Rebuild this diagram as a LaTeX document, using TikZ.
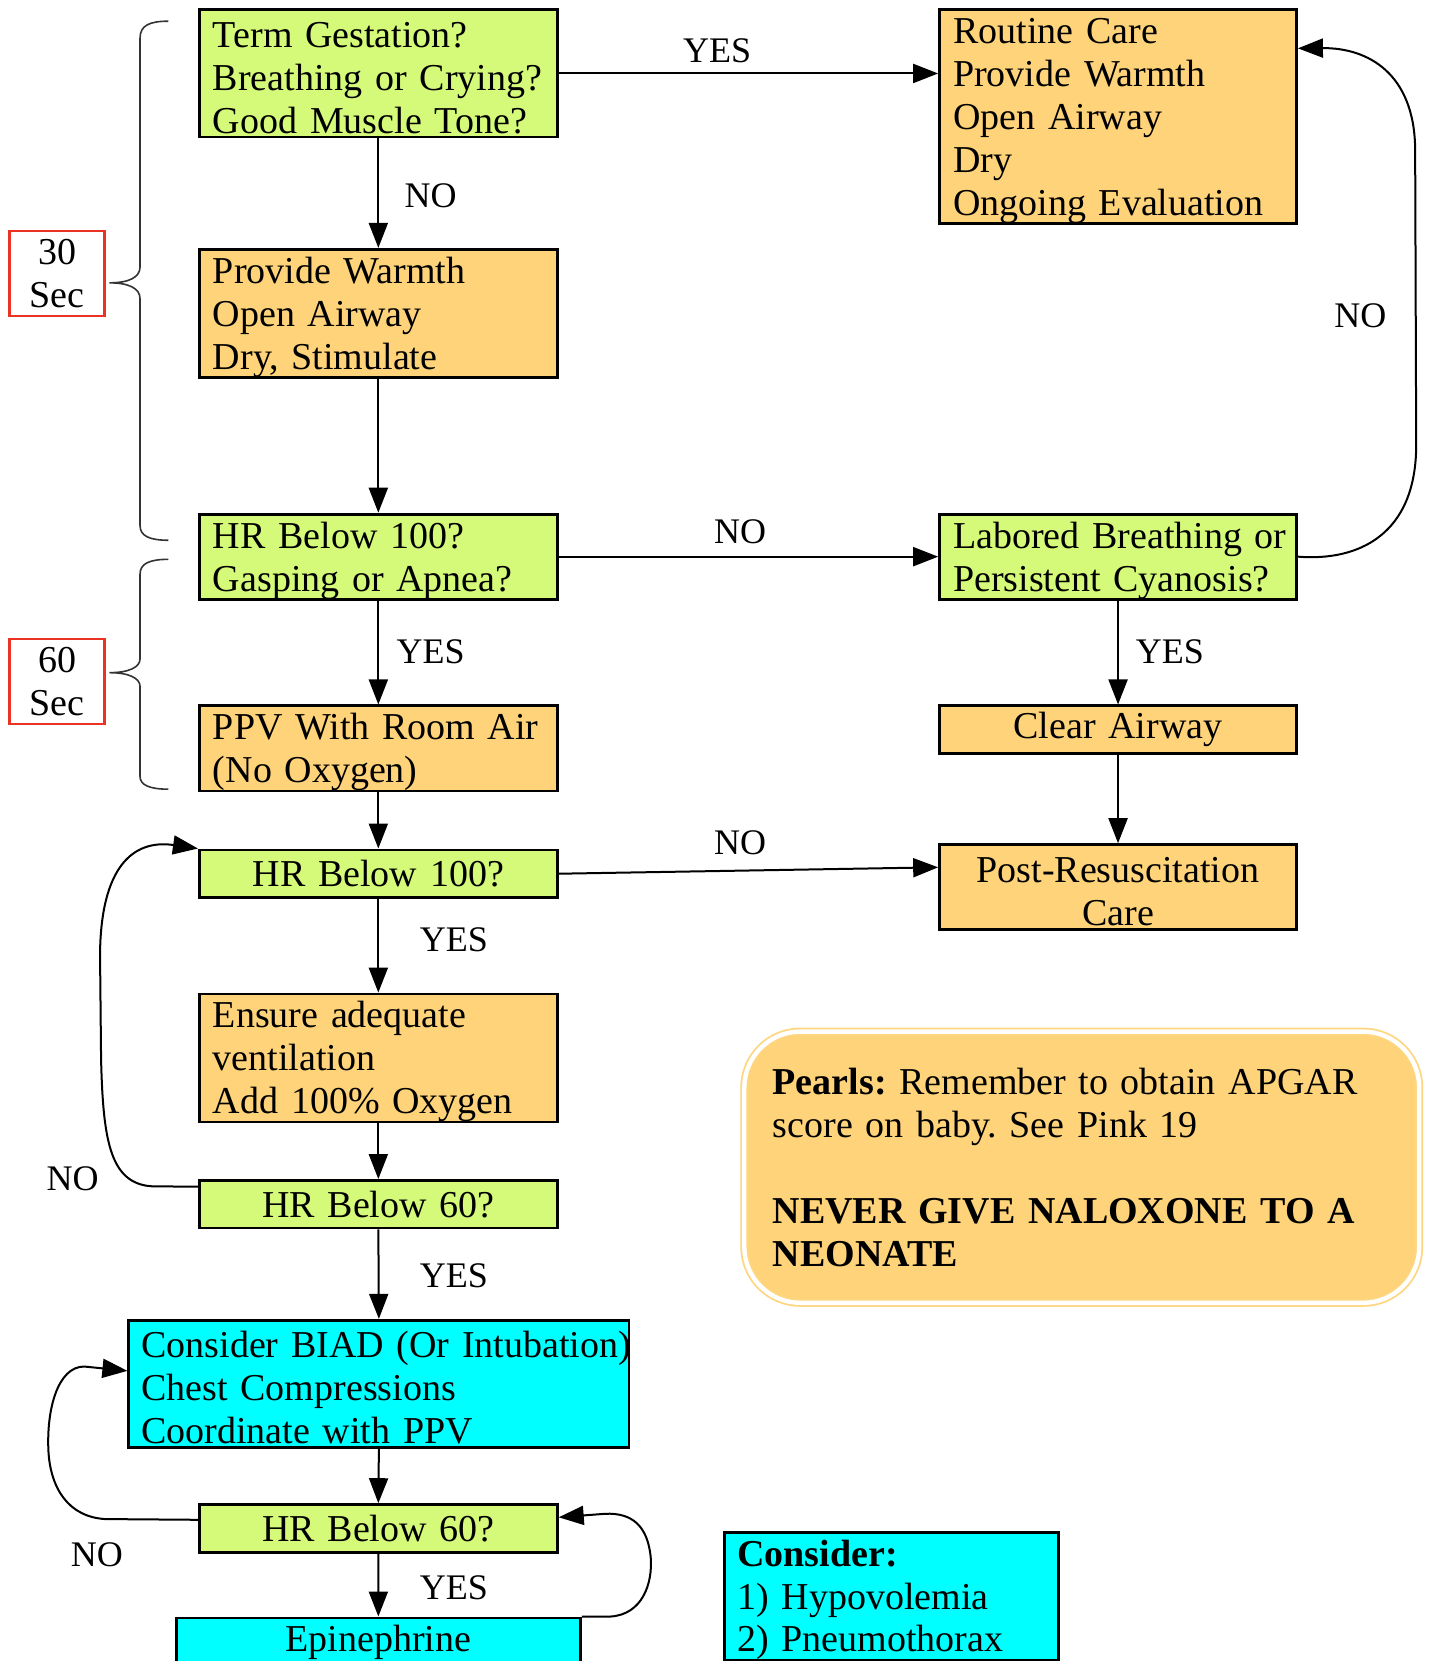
\documentclass[tikz,border=0pt]{standalone}
\usepackage{fontspec}
\setmainfont{Liberation Serif}
\usetikzlibrary{arrows.meta,calc}
\definecolor{gfill}{RGB}{213,250,122}
\definecolor{ofill}{RGB}{254,211,122}
\definecolor{cfill}{RGB}{0,255,255}
\definecolor{redb}{RGB}{235,51,36}
\definecolor{pline}{RGB}{254,214,128}
\begin{document}
\frenchspacing
\begin{tikzpicture}[x=0.5265pt, y=-0.5297pt,
  box/.style={draw=black, line width=1.4pt, anchor=north west, inner xsep=6.8pt, inner ysep=0pt, font=\fontsize{19}{21.45}\selectfont, align=left},
  gbox/.style={box, fill=gfill},
  obox/.style={box, fill=ofill},
  cbox/.style={box, fill=cfill},
  lw/.style={minimum width=179pt, text width=165.4pt},
  rw/.style={minimum width=178.5pt, text width=164.9pt},
  down/.style={execute at begin node={\rule{0pt}{17pt}}},
  h3/.style={minimum height=63.6pt, down},
  h2/.style={minimum height=42.4pt, down},
  h1/.style={minimum height=23.8pt},
  lbl/.style={font=\fontsize{18}{20}\selectfont, inner sep=0pt},
  arr/.style={-{Triangle[length=12.5pt,width=9.5pt]}, line width=1pt},
  brace/.style={draw=black!80, line width=0.8pt},
  redbox/.style={draw=redb, line width=1.2pt, anchor=north west, minimum width=47.4pt, minimum height=42.4pt, align=center, font=\fontsize{19}{21.45}\selectfont, inner sep=0pt},
  pearl/.style={draw=pline, double=white, double distance=2.2pt, line width=0.9pt, fill=ofill, rounded corners=28pt, anchor=north west, minimum width=337.5pt, minimum height=135.6pt, text width=309pt, inner xsep=14.2pt, inner ysep=0pt, align=left, font=\fontsize{19}{21.45}\selectfont}
]
\useasboundingbox (0,0) rectangle (1357,1568);

% left column
\node[gbox,lw,h3] (term) at (188,8) {Term Gestation?\\ \mbox{Breathing or Crying?}\\ Good Muscle Tone?};
\node[obox,lw,h3] (warm) at (188,234) {Provide Warmth\\ Open Airway\\ Dry, Stimulate};
\node[gbox,lw,h2] (hra) at (188,484) {HR Below 100?\\ Gasping or Apnea?};
\node[obox,lw,h2] (ppv) at (188,665) {PPV With Room Air\\ (No Oxygen)};
\node[gbox,lw,h1,align=center] (hrb) at (188,801) {HR Below 100?};
\node[obox,lw,h3] (ens) at (188,937) {Ensure adequate\\ ventilation\\ Add 100\% Oxygen};
\node[gbox,lw,h1,align=center] (hrc) at (188,1113) {HR Below 60?};
\node[cbox,h3,minimum width=250.1pt,text width=237.5pt,inner xsep=6.3pt] (biad) at (121,1245) {\mbox{Consider BIAD (Or Intubation)}\\ Chest Compressions\\ Coordinate with PPV};
\node[gbox,lw,h1,align=center] (hrd) at (188,1419) {HR Below 60?};
\node[cbox,minimum width=202.2pt,text width=188.6pt,minimum height=24.4pt,align=center] (epi) at (166,1526) {Epinephrine};

% right column
\node[obox,rw,minimum height=106.5pt,down] (rout) at (891,8) {Routine Care\\ Provide Warmth\\ Open Airway\\ Dry\\ Ongoing Evaluation};
\node[gbox,rw,h2] (lab) at (891,484) {\mbox{Labored Breathing or}\\ Persistent Cyanosis?};
\node[obox,rw,h1,align=center] (clr) at (891,665) {Clear Airway};
\node[obox,rw,h2,align=center] (post) at (891,796) {Post-Resuscitation\\ Care};

\node[cbox,h3,minimum width=166.9pt,text width=154.3pt,inner xsep=6.3pt] (cons) at (687,1445) {\textbf{Consider:}\\ 1) Hypovolemia\\ 2) Pneumothorax};

\node[pearl] (pearl) at (706,973) {\textbf{Pearls:} Remember to obtain APGAR\\ score on baby. See Pink 19\\ \mbox{}\\ \textbf{NEVER GIVE NALOXONE TO A}\\ \textbf{NEONATE}};

% timing boxes and braces
\node[redbox] (t30) at (8,217) {30\\ Sec};
\node[redbox] (t60) at (8,602) {60\\ Sec};
\draw[brace] (160,20) .. controls (142,20) and (133,24) .. (133,36) -- (133,252) .. controls (133,262) and (122,267) .. (104,267) .. controls (122,267) and (133,272) .. (133,282) -- (133,496) .. controls (133,506) and (142,510) .. (160,510);
\draw[brace] (160,528) .. controls (142,528) and (133,532) .. (133,542) -- (133,622) .. controls (133,630) and (122,635) .. (104,635) .. controls (122,635) and (133,640) .. (133,648) -- (133,733) .. controls (133,741) and (142,745) .. (160,745);

% straight connectors
\draw[arr] (term.east) -- (term.east -| rout.west);
\draw[arr] (term.south) -- (warm.north);
\draw[arr] (warm.south) -- (hra.north);
\draw[arr] (hra.east) -- (lab.west);
\draw[arr] (hra.south) -- (ppv.north);
\draw[arr] (lab.south) -- (clr.north);
\draw[arr] (clr.south) -- (post.north);
\draw[arr] (ppv.south) -- (hrb.north);
\draw[arr] (hrb.east) -- ($(post.north west)!0.275!(post.south west)$);
\draw[arr] (hrb.south) -- (ens.north);
\draw[arr] (ens.south) -- (hrc.north);
\draw[arr] (hrc.south) -- (biad.north);
\draw[arr] (biad.south) -- (hrd.north);
\draw[arr] (hrd.south) -- (epi.north);

% curved connectors
\draw[arr] (lab.east) .. controls (1290,530) and (1345,505) .. (1345,420) -- (1344,140) .. controls (1343,70) and (1300,45) .. ($(rout.north east)!0.184!(rout.south east)$);
\draw[arr] ($(hrc.north west)!0.15!(hrc.south west)$) -- (150,1120) .. controls (105,1121) and (98,1080) .. (96,1000) -- (95,900) .. controls (96,820) and (125,792) .. (hrb.north west);
\draw[arr] ($(hrd.north west)!0.33!(hrd.south west)$) -- (100,1434) .. controls (65,1432) and (48,1405) .. (46,1370) .. controls (44,1330) and (55,1290) .. (80,1290) -- ($(biad.north west)!0.4!(biad.south west)$);
\draw[arr] (epi.north east) -- (580,1526) .. controls (610,1524) and (620,1495) .. (618,1470) .. controls (615,1440) and (600,1428) .. (575,1429) -- ($(hrd.north east)!0.28!(hrd.south east)$);

% labels
\node[lbl] (l1) at (681,48) {YES};
\node[lbl] (l2) at (409,185) {NO};
\node[lbl] (l3) at (703,502) {NO};
\node[lbl] (l4) at (1292,298) {NO};
\node[lbl] (l5) at (409,615) {YES};
\node[lbl] (l6) at (1111,615) {YES};
\node[lbl] (l7) at (703,796) {NO};
\node[lbl] (l8) at (431,887) {YES};
\node[lbl] (l9) at (69,1113) {NO};
\node[lbl] (l10) at (431,1204) {YES};
\node[lbl] (l11) at (92,1468) {NO};
\node[lbl] (l12) at (431,1499) {YES};
\end{tikzpicture}
\end{document}
